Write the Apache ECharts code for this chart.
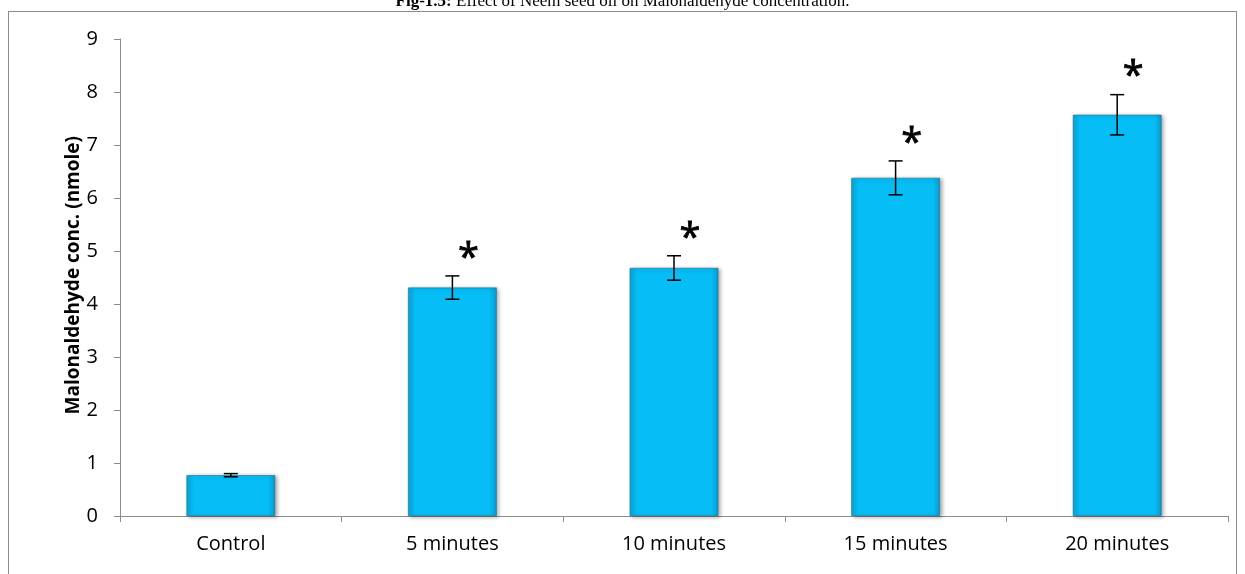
<!DOCTYPE html>
<html>
<head>
<meta charset="utf-8">
<title>Malonaldehyde</title>
<script src="https://cdn.jsdelivr.net/npm/echarts@6/dist/echarts.min.js"></script>
<style>
  body { margin: 0; background: #fff; }
  #main { width: 1245px; height: 574px; }
  #frame { position: absolute; left: 8px; top: 11px; width: 1229px; height: 570px; border: 1px solid #8c8c8c; box-sizing: border-box; pointer-events: none; }
  #title { position: absolute; top: -9px; left: 0; width: 1245px; text-align: center; font-family: "Liberation Serif", serif; font-size: 17px; color: #000; }
</style>
</head>
<body>
<div id="main"></div>
<div id="frame"></div>
<div id="title"><b>Fig-1.5:</b> Effect of Neem seed oil on Malonaldehyde concentration.</div>
<script type="text/javascript">
var categories = ['Control', '5 minutes', '10 minutes', '15 minutes', '20 minutes'];
var means = [0.77, 4.31, 4.68, 6.38, 7.57];
var errors = [0.03, 0.22, 0.23, 0.32, 0.38];
var marks = ['', '*', '*', '*', '*'];
var yTitle = 'Malonaldehyde conc. (nmole)';

var myChart = echarts.init(document.getElementById('main'));

var errData = means.map(function (m, i) { return [i, m - errors[i], m + errors[i], marks[i]]; });

var option = {
    animation: false,
    grid: { left: 120, right: 17, top: 39, bottom: 58 },
    // y axis title placed by hand, closer to the tick labels like the original
    graphic: [{
        type: 'text',
        left: 64, top: 136,
        rotation: Math.PI / 2,
        style: { text: yTitle, fill: '#000', fontSize: 19, fontWeight: 'bold', fontFamily: 'Open Sans' }
    }],
    xAxis: {
        type: 'category',
        data: categories,
        axisLine: { lineStyle: { color: '#8c8c8c', width: 1 } },
        axisTick: { show: true, length: 6, lineStyle: { color: '#8c8c8c' } },
        axisLabel: { color: '#000', fontSize: 20, fontFamily: 'Open Sans', margin: 18 }
    },
    yAxis: {
        type: 'value',
        min: 0, max: 9, interval: 1,
        axisLine: { show: true, lineStyle: { color: '#8c8c8c' } },
        axisTick: { show: true, length: 6, lineStyle: { color: '#8c8c8c' } },
        splitLine: { show: false },
        axisLabel: { color: '#000', fontSize: 20, fontFamily: 'Open Sans', margin: 22 }
    },
    series: [
        {
            type: 'bar',
            data: means,
            barWidth: '40%',
            itemStyle: {
                color: new echarts.graphic.LinearGradient(0, 0, 1, 0, [
                    { offset: 0, color: '#0aa6dc' },
                    { offset: 0.08, color: '#06bdf6' },
                    { offset: 0.92, color: '#06bdf6' },
                    { offset: 1, color: '#0a9ccf' }
                ]),
                borderColor: '#1f6f8f',
                borderWidth: 0.6,
                shadowColor: 'rgba(0,0,0,0.35)',
                shadowBlur: 4,
                shadowOffsetX: 2,
                shadowOffsetY: 1
            },
            z: 2
        },
        {
            type: 'custom',
            data: errData,
            z: 5,
            renderItem: function (params, api) {
                var x = api.value(0);
                var lo = api.coord([x, api.value(1)]);
                var hi = api.coord([x, api.value(2)]);
                var cap = 7;
                var style = { stroke: '#000', lineWidth: 1.5 };
                var children = [
                    { type: 'line', shape: { x1: hi[0], y1: hi[1], x2: lo[0], y2: lo[1] }, style: style },
                    { type: 'line', shape: { x1: hi[0] - cap, y1: hi[1], x2: hi[0] + cap, y2: hi[1] }, style: style },
                    { type: 'line', shape: { x1: lo[0] - cap, y1: lo[1], x2: lo[0] + cap, y2: lo[1] }, style: style }
                ];
                var star = api.value(3);
                if (star) {
                    children.push({
                        type: 'text',
                        style: {
                            text: '*', x: hi[0] + 16, y: hi[1] + 2,
                            fill: '#000', fontSize: 38, fontFamily: 'Open Sans',
                            stroke: '#000', lineWidth: 0.8,
                            align: 'center', verticalAlign: 'bottom'
                        }
                    });
                }
                return { type: 'group', children: children };
            }
        }
    ]
};

myChart.setOption(option);
</script>
</body>
</html>
